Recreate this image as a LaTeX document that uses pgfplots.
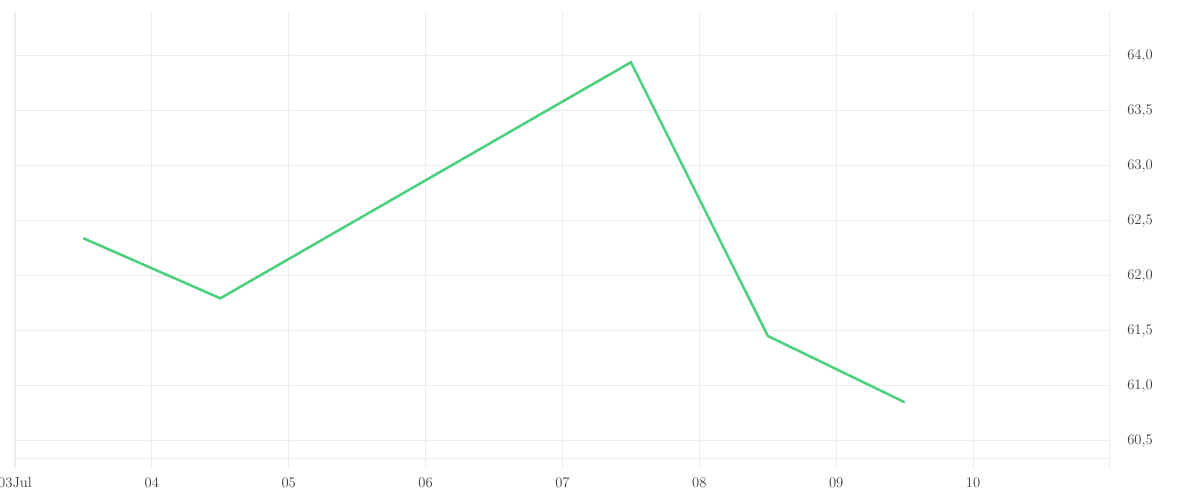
\documentclass[border=0pt]{standalone}
\usepackage{pgfplots}
\pgfplotsset{compat=1.18}
\definecolor{linegreen}{RGB}{76,208,125}
\definecolor{gridgray}{RGB}{236,236,236}
\definecolor{labelgray}{RGB}{60,60,60}
\begin{document}
\begin{tikzpicture}
\path[use as bounding box] (0,0) rectangle (900pt,375pt);
\begin{axis}[
  at={(11.25pt,24pt)}, anchor=south west,
  scale only axis, width=821.25pt, height=342pt,
  xmin=3, xmax=11, ymin=60.2545, ymax=64.4,
  axis line style={draw=none},
  xtick={3,4,5,6,7,8,9,10,11},
  xticklabels={03Jul,04,05,06,07,08,09,10,{}},
  ytick={60.5,61,61.5,62,62.5,63,63.5,64},
  extra y ticks={60.345},
  extra y tick labels={},
  extra y tick style={grid=major, major grid style={gridgray, line width=0.75pt}},
  yticklabel pos=right,
  major tick length=0pt,
  grid=major,
  major grid style={gridgray, line width=0.75pt},
  tick label style={font=\fontsize{11}{13}\selectfont, text=labelgray},
  yticklabel style={anchor=west, inner sep=0pt, xshift=12.75pt},
  xticklabel style={anchor=north, inner sep=0pt, yshift=-7pt},
  /pgf/number format/.cd, fixed, fixed zerofill, precision=1, use comma, assume math mode=true,
]
\draw[gridgray, line width=0.75pt] (axis cs:11,60.2545) -- (axis cs:11,64.4);
\addplot[linegreen, line width=1.9pt, mark=none] coordinates {
  (3.5,62.343) (4.5,61.797) (7.5,63.943) (8.5,61.455) (9.5,60.852)
};
\end{axis}
\end{tikzpicture}
\end{document}
